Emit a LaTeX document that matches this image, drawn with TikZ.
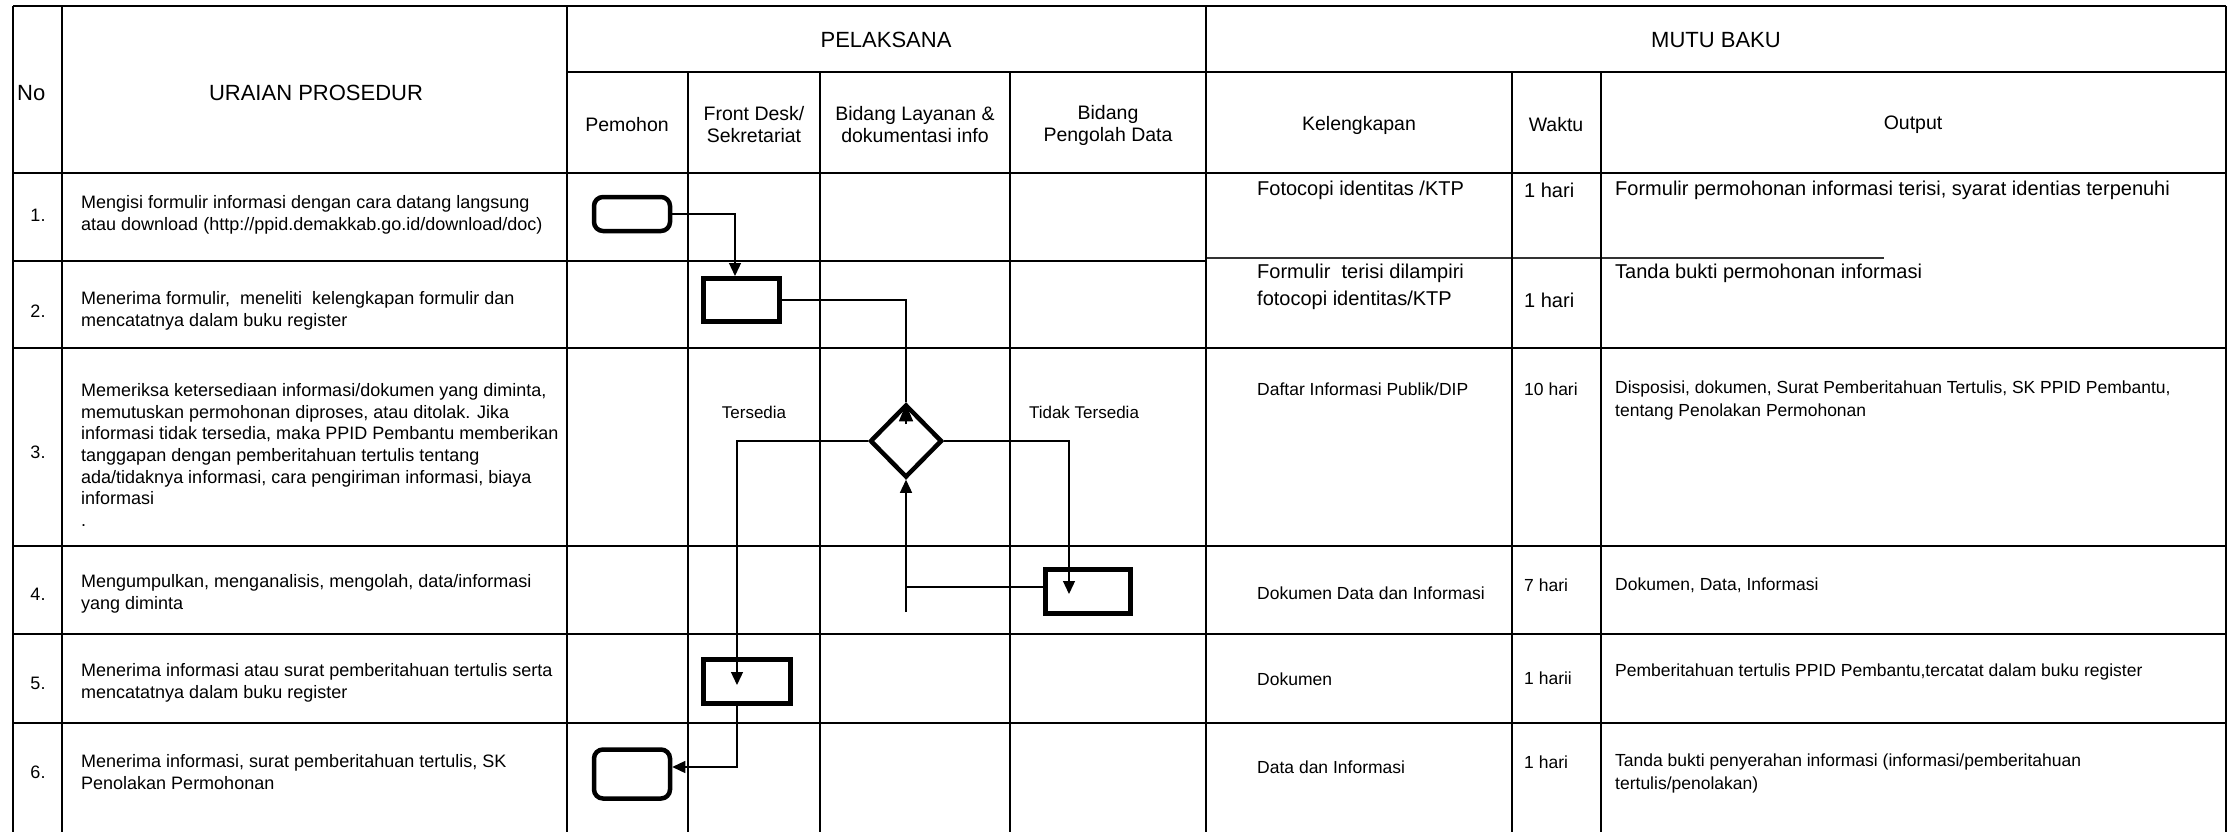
\documentclass[tikz,border=0pt]{standalone}
\usepackage{fontspec}
\setmainfont{Liberation Sans}
\usetikzlibrary{shapes.geometric, arrows.meta, positioning}
\newcommand{\hdfont}{\fontsize{22}{26}\selectfont}
\newcommand{\subfont}{\fontsize{19.5}{22}\selectfont}
\newcommand{\rowfont}{\fontsize{18}{21.7}\selectfont}
\newcommand{\mutufont}{\fontsize{20}{27}\selectfont}
\newcommand{\kecilfont}{\fontsize{17.5}{23}\selectfont}

\begin{document}
\begin{tikzpicture}[x=1pt, y=-1pt,
  garis/.style={line width=1.6pt},
  teks/.style={inner sep=0pt, align=left, font=\rowfont},
  judul/.style={inner sep=0pt, align=center, font=\subfont},
  mutu/.style={inner sep=0pt, align=left, font=\mutufont, anchor=west},
  mutukecil/.style={inner sep=0pt, align=left, font=\kecilfont, anchor=west},
  terminal/.style={rectangle, rounded corners=9pt, draw, line width=4.5pt, inner sep=0pt, minimum width=76pt},
  proses/.style={rectangle, draw, line width=5pt, inner sep=0pt},
  keputusan/.style={diamond, draw, line width=4.5pt, inner sep=0pt, minimum width=72pt, minimum height=73pt},
  alur/.style={line width=1.3pt},
  panah/.style={line width=1.3pt, -{Triangle[length=13pt, width=12pt]}}]
\useasboundingbox (0,0) rectangle (2235,832);

% tabel
\draw[garis] (13,6) -- (2226,6);
\draw[garis] (567,72) -- (2226,72);
\draw[garis] (13,173) -- (2226,173);
\draw[garis] (13,261) -- (1206,261);
\draw[line width=1.1pt, black!80] (1206,258) -- (1884,258);
\draw[garis] (13,348) -- (2226,348);
\draw[garis] (13,546) -- (2226,546);
\draw[garis] (13,634) -- (2226,634);
\draw[garis] (13,723) -- (2226,723);
\draw[garis] (13,6) -- (13,832);
\draw[garis] (62,6) -- (62,832);
\draw[garis] (567,6) -- (567,832);
\draw[garis] (688,72) -- (688,832);
\draw[garis] (820,72) -- (820,832);
\draw[garis] (1010,72) -- (1010,832);
\draw[garis] (1206,6) -- (1206,832);
\draw[garis] (1512,72) -- (1512,832);
\draw[garis] (1601,72) -- (1601,832);
\draw[garis] (2226,6) -- (2226,832);

% kepala tabel
\node[inner sep=0pt, anchor=west, font=\hdfont] (hno) at (17,93) {No};
\node[inner sep=0pt, font=\hdfont] (huraian) at (316,93) {URAIAN PROSEDUR};
\node[inner sep=0pt, font=\hdfont] (hpelaksana) at (886,40) {PELAKSANA};
\node[inner sep=0pt, font=\hdfont] (hmutu) at (1716,40) {MUTU BAKU};
\node[judul] (hpemohon) at (627,125) {Pemohon};
\node[judul] (hfront) at (754,125) {Front Desk/\\Sekretariat};
\node[judul] (hlayanan) at (915,125) {Bidang Layanan \&\\dokumentasi info};
\node[judul] (hpengolah) at (1108,125) {Bidang\\Pengolah Data};
\node[judul] (hkel) at (1359,125) {Kelengkapan};
\node[judul] (hwaktu) at (1556,125) {Waktu};
\node[judul] (houtput) at (1913,125) {Output};

% nomor dan uraian
\node[teks] (no1) at (38,215) {1.};
\node[teks] (no2) at (38,311) {2.};
\node[teks] (no3) at (38,452) {3.};
\node[teks] (no4) at (38,594) {4.};
\node[teks] (no5) at (38,683) {5.};
\node[teks] (no6) at (38,772) {6.};
\node[teks, anchor=west] (uraian1) at (81,215) {Mengisi formulir informasi dengan cara datang langsung\\atau download (http://ppid.demakkab.go.id/download/doc)};
\node[teks, anchor=west] (uraian2) at (81,311) {Menerima formulir,\ \ meneliti\ \ kelengkapan formulir dan\\mencatatnya dalam buku register};
\node[teks, anchor=west] (uraian3) at (81,455) {Memeriksa ketersediaan informasi/dokumen yang diminta,\\memutuskan permohonan diproses, atau ditolak. Jika\\informasi tidak tersedia, maka PPID Pembantu memberikan\\tanggapan dengan pemberitahuan tertulis tentang\\ada/tidaknya informasi, cara pengiriman informasi, biaya\\informasi\\.};
\node[teks, anchor=west] (uraian4) at (81,594) {Mengumpulkan, menganalisis, mengolah, data/informasi\\yang diminta};
\node[teks, anchor=west] (uraian5) at (81,683) {Menerima informasi atau surat pemberitahuan tertulis serta\\mencatatnya dalam buku register};
\node[teks, anchor=west] (uraian6) at (81,772) {Menerima informasi, surat pemberitahuan tertulis, SK\\Penolakan Permohonan};

% mutu baku
\node[mutu] (kel1) at (1257,190) {Fotocopi identitas /KTP};
\node[mutu] (waktu1) at (1524,190) {1 hari};
\node[mutu] (out1) at (1615,190) {Formulir permohonan informasi terisi, syarat identias terpenuhi};
\node[mutu] (kel2) at (1257,287) {Formulir\ \ terisi dilampiri\\fotocopi identitas/KTP};
\node[mutu] (waktu2) at (1524,300) {1 hari};
\node[mutu] (out2) at (1615,273) {Tanda bukti permohonan informasi};
\node[mutukecil] (kel3) at (1257,389) {Daftar Informasi Publik/DIP};
\node[mutukecil] (waktu3) at (1524,389) {10 hari};
\node[mutukecil] (out3) at (1615,400) {Disposisi, dokumen, Surat Pemberitahuan Tertulis, SK PPID Pembantu,\\tentang Penolakan Permohonan};
\node[mutukecil] (kel4) at (1257,593) {Dokumen Data dan Informasi};
\node[mutukecil] (waktu4) at (1524,585) {7 hari};
\node[mutukecil] (out4) at (1615,585) {Dokumen, Data, Informasi};
\node[mutukecil] (kel5) at (1257,679) {Dokumen};
\node[mutukecil] (waktu5) at (1524,678) {1 harii};
\node[mutukecil] (out5) at (1615,672) {Pemberitahuan tertulis PPID Pembantu,tercatat dalam buku register};
\node[mutukecil] (kel6) at (1257,767) {Data dan Informasi};
\node[mutukecil] (waktu6) at (1524,762) {1 hari};
\node[mutukecil] (out6) at (1615,773) {Tanda bukti penyerahan informasi (informasi/pemberitahuan\\tertulis/penolakan)};

% bagan alir
\node[terminal, minimum height=34pt] (mulai) at (632,214) {};
\node[proses, minimum width=76pt, minimum height=43pt] (terima) at (741,300) {};
\node[keputusan] (cek) at (906,441) {};
\node[proses, minimum width=85pt, minimum height=44pt] (olah) at (1088,591) {};
\node[proses, minimum width=87pt, minimum height=44pt] (catat) at (747,681) {};
\node[terminal, minimum height=49pt] (selesai) at (632,774) {};
\node[inner sep=0pt, font=\fontsize{17}{20}\selectfont] (ada) at (754,412) {Tersedia};
\node[inner sep=0pt, font=\fontsize{17}{20}\selectfont] (tidak) at (1084,412) {Tidak Tersedia};
\coordinate (ujung) at (906,612);

\draw[panah] (mulai.east) -| ([xshift=-6pt]terima.north);
\draw[alur] (terima.east) -| (cek.north);
\draw[line width=1.3pt, -{Triangle[length=17pt, width=14pt]}] ([yshift=-22pt]cek.north) -- ([yshift=-2pt]cek.north);
\draw[panah] (cek.west) -| ([xshift=-10pt, yshift=-4pt]catat.center);
\draw[panah] (cek.east) -| ([xshift=-19pt, yshift=-3pt]olah.center);
\draw[alur] ([yshift=4pt]olah.west) -- ([yshift=4pt]olah.west -| ujung);
\draw[panah] (ujung) -- (cek.south);
\draw[panah] ([xshift=-10pt]catat.south) |- ([yshift=7pt]selesai.east);
\end{tikzpicture}
\end{document}
